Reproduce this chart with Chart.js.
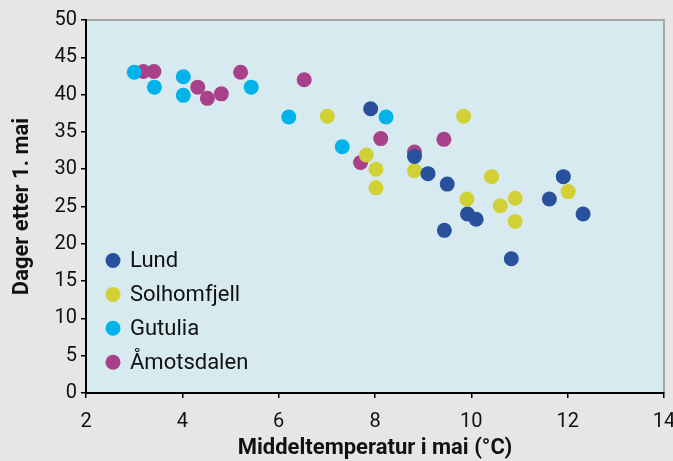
<!DOCTYPE html>
<html><head><meta charset="utf-8">
<script src="https://cdn.jsdelivr.net/npm/chart.js@4/dist/chart.umd.min.js"></script>
<style>html,body{margin:0;padding:0;background:#e6e6e6}canvas{display:block}</style>
</head><body>
<canvas id="c" width="673" height="461"></canvas>
<script>
const seriesNames = ["Lund", "Solhomfjell", "Gutulia", "Åmotsdalen"];
const lundX = [7.91, 8.82, 9.10, 9.50, 9.92, 10.10, 9.44, 10.83, 11.62, 11.91, 12.32];
const lundY = [38.1, 31.7, 29.4, 28.0, 24.0, 23.3, 21.8, 18.0, 26.0, 29.0, 24.0];
const solhomX = [7.01, 7.82, 8.02, 8.02, 8.82, 9.84, 10.42, 9.91, 10.60, 10.91, 10.91, 12.01];
const solhomY = [37.1, 31.9, 30.0, 27.5, 29.8, 37.1, 29.0, 26.0, 25.1, 26.1, 23.0, 27.0];
const gutuliaX = [3.00, 3.42, 4.02, 4.02, 5.43, 6.21, 8.23, 7.32];
const gutuliaY = [43.0, 41.0, 42.4, 39.9, 41.0, 37.0, 37.0, 33.0];
const amotX = [3.19, 3.41, 4.32, 4.52, 4.81, 5.21, 6.53, 8.12, 7.70, 8.82, 9.43];
const amotY = [43.1, 43.1, 41.0, 39.5, 40.1, 43.0, 42.0, 34.1, 30.9, 32.3, 34.0];
const xTicks = [2, 4, 6, 8, 10, 12, 14];
const yTicks = [0, 5, 10, 15, 20, 25, 30, 35, 40, 45, 50];
const xTitle = "Middeltemperatur i mai (°C)";
const yTitle = "Dager etter 1. mai";
const colors = ["#28509c", "#d1d135", "#00b4eb", "#a8418a"];

const pts = (xs, ys) => xs.map((x, i) => ({x: x, y: ys[i]}));
const seriesData = [pts(lundX, lundY), pts(solhomX, solhomY), pts(gutuliaX, gutuliaY), pts(amotX, amotY)];

const FONT = "Roboto";

const bgPlugin = {
  id: 'bg',
  beforeDraw(chart) {
    const ctx = chart.ctx, a = chart.chartArea;
    ctx.save();
    ctx.fillStyle = '#e6e6e6';
    ctx.fillRect(0, 0, chart.width, chart.height);
    ctx.fillStyle = '#d6eaf0';
    ctx.fillRect(a.left, a.top, a.right - a.left, a.bottom - a.top);
    ctx.strokeStyle = '#a6a6a6';
    ctx.lineWidth = 2;
    ctx.beginPath();
    ctx.moveTo(a.left, a.top);
    ctx.lineTo(a.right, a.top);
    ctx.lineTo(a.right, a.bottom);
    ctx.stroke();
    ctx.restore();
  }
};

const legendPlugin = {
  id: 'inLegend',
  afterDatasetsDraw(chart) {
    const ctx = chart.ctx, a = chart.chartArea;
    ctx.save();
    ctx.font = '22px ' + FONT;
    ctx.textBaseline = 'middle';
    ctx.textAlign = 'left';
    chart.data.datasets.forEach((ds, i) => {
      const cx = a.left + 27, cy = a.bottom - 132.5 + i * 33.9;
      ctx.fillStyle = ds.backgroundColor;
      ctx.beginPath();
      ctx.arc(cx, cy, 7.5, 0, Math.PI * 2);
      ctx.fill();
      ctx.fillStyle = '#111';
      ctx.fillText(ds.label, a.left + 44, cy + 1);
    });
    ctx.restore();
  }
};

new Chart(document.getElementById('c'), {
  type: 'scatter',
  data: {
    datasets: seriesNames.map((n, i) => ({
      label: n,
      data: seriesData[i],
      backgroundColor: colors[i],
      borderColor: colors[i],
      borderWidth: 0,
      pointRadius: 7.5,
      pointHoverRadius: 7.5
    }))
  },
  options: {
    responsive: false,
    animation: false,
    layout: {padding: {top: 20, right: 9, left: 0, bottom: 0}},
    plugins: {legend: {display: false}, tooltip: {enabled: false}},
    scales: {
      x: {
        type: 'linear', min: 2, max: 14,
        afterBuildTicks: s => { s.ticks = xTicks.map(v => ({value: v})); },
        afterFit: s => { s.height = 68; s.paddingRight = 6; },
        grid: {drawOnChartArea: false, drawTicks: true, tickLength: 5, color: '#000', lineWidth: 1.5},
        border: {display: true, color: '#000', width: 2},
        ticks: {color: '#111', font: {family: FONT, size: 20}, padding: 12, maxRotation: 0},
        title: {display: true, text: xTitle, color: '#111', font: {family: FONT, size: 22, weight: 'bold'}, padding: {top: 0, bottom: -1}}
      },
      y: {
        type: 'linear', min: 0, max: 50,
        afterBuildTicks: s => { s.ticks = yTicks.map(v => ({value: v})); },
        afterFit: s => { s.width = 86; },
        grid: {drawOnChartArea: false, drawTicks: true, tickLength: 5, color: '#000', lineWidth: 1.5},
        border: {display: true, color: '#000', width: 2},
        ticks: {color: '#111', font: {family: FONT, size: 20}, padding: 4},
        title: {display: true, text: yTitle, color: '#111', font: {family: FONT, size: 22, weight: 'bold'}, padding: {top: 9, bottom: 0}}
      }
    }
  },
  plugins: [bgPlugin, legendPlugin]
});
</script>
</body></html>
